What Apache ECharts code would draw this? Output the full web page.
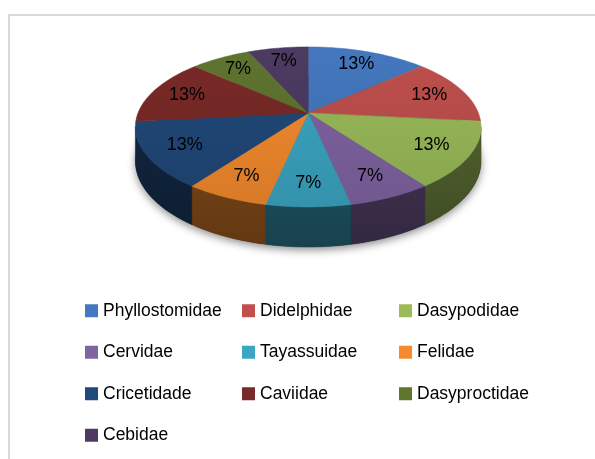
<!DOCTYPE html>
<html>
<head>
<meta charset="utf-8">
<script src="https://cdn.jsdelivr.net/npm/echarts@6/dist/echarts.min.js"></script>
<style>
  html, body { margin: 0; padding: 0; background: #fff; }
  #chart { width: 595px; height: 459px; }
</style>
</head>
<body>
<div id="chart"></div>
<script>
// families, clockwise from 12 o'clock
var families = ['Phyllostomidae', 'Didelphidae', 'Dasypodidae', 'Cervidae', 'Tayassuidae',
    'Felidae', 'Cricetidade', 'Caviidae', 'Dasyproctidae', 'Cebidae'];
var counts = [2, 2, 2, 1, 1, 1, 2, 2, 1, 1];

var palette = ['#4478c0', '#c0504d', '#9bbb59', '#8064a2', '#3ba6c2',
    '#f58b2e', '#21497a', '#7a2a28', '#5f7530', '#4d3b62'];

var chart = echarts.init(document.getElementById('chart'));

var total = counts.reduce(function (a, b) { return a + b; }, 0);

// pseudo 3d pie geometry (fractions of the canvas)
var geo = {cx: 0.518, cy: 0.246, rx: 0.286, ry: 0.169, persp: 0.175, depth: 0.072};

function shade(hex, f) {
    var n = parseInt(hex.slice(1), 16);
    var r = Math.min(255, Math.round(((n >> 16) & 255) * f));
    var g = Math.min(255, Math.round(((n >> 8) & 255) * f));
    var b = Math.min(255, Math.round((n & 255) * f));
    return 'rgb(' + r + ',' + g + ',' + b + ')';
}

function projector(api) {
    var W = api.getWidth(), H = api.getHeight();
    var cx = geo.cx * W, cy = geo.cy * H, A = geo.rx * W, B = geo.ry * H, D = geo.depth * H;
    return function (theta, r, h) {
        var u = r * Math.sin(theta), v = -r * Math.cos(theta);
        var w = 1 - geo.persp * v;
        return [cx + A * u / w, cy + (B * v + h * D) / w];
    };
}

function arcPoints(p, a, b, r, h) {
    var pts = [];
    var n = Math.max(2, Math.ceil((b - a) / (Math.PI / 90)));
    for (var k = 0; k <= n; k++) {
        pts.push(p(a + (b - a) * k / n, r, h));
    }
    return pts;
}

function makeRender(i) {
    return function (params, api) {
        var p = projector(api);
        var H = api.getHeight();
        var before = 0;
        for (var j = 0; j < i; j++) before += counts[j];
        var a = before / total * Math.PI * 2;
        var b = a + api.value(0) / total * Math.PI * 2;
        var color = palette[i];
        var children = [];

        if (i === 0) {
            // base of the pie, carries the soft shadow
            children.push({
                type: 'polygon',
                z2: 1,
                shape: {points: arcPoints(p, 0, Math.PI * 2, 1, 1)},
                style: {fill: '#333', shadowBlur: 8, shadowColor: 'rgba(0,0,0,0.45)', shadowOffsetY: 3}
            });
        }

        // visible outer wall
        var vis0 = Math.acos(-geo.persp), vis1 = Math.PI * 2 - vis0;
        var wa = Math.max(a, vis0), wb = Math.min(b, vis1);
        if (wa < wb) {
            var top = arcPoints(p, wa, wb, 1, 0);
            var bot = arcPoints(p, wa, wb, 1, 1).reverse();
            var y0 = geo.cy * H, y1 = y0 + (geo.ry + geo.depth) * H * 1.2;
            children.push({
                type: 'polygon',
                z2: 5,
                shape: {points: top.concat(bot)},
                style: {
                    fill: new echarts.graphic.LinearGradient(0, y0, 0, y1, [
                        {offset: 0, color: shade(color, 0.52)},
                        {offset: 1, color: shade(color, 0.4)}
                    ], true),
                    stroke: shade(color, 0.42),
                    lineWidth: 0.5
                }
            });
        }

        // top face
        var topY = (geo.cy - geo.ry) * H, botY = (geo.cy + geo.ry * 1.25) * H;
        children.push({
            type: 'polygon',
            z2: 10,
            shape: {points: [p(0, 0, 0)].concat(arcPoints(p, a, b, 1, 0))},
            style: {
                fill: new echarts.graphic.LinearGradient(0, topY, 0, botY, [
                    {offset: 0, color: shade(color, 1.0)},
                    {offset: 1, color: shade(color, 0.88)}
                ], true),
                stroke: shade(color, 0.95),
                lineWidth: 0.5
            }
        });

        // percentage label
        var mid = (a + b) / 2;
        var lp = p(mid, 0.78, 0);
        children.push({
            type: 'text',
            z2: 20,
            x: lp[0],
            y: lp[1],
            style: {
                text: Math.round(api.value(0) / total * 100) + '%',
                fill: '#000',
                font: '18px "Liberation Sans", Arial, sans-serif',
                align: 'center',
                verticalAlign: 'middle'
            }
        });

        return {type: 'group', children: children};
    };
}

var series = families.map(function (name, i) {
    return {
        name: name,
        type: 'custom',
        coordinateSystem: 'none',
        itemStyle: {color: palette[i]},
        renderItem: makeRender(i),
        data: [counts[i]]
    };
});

chart.setOption({
    animation: false,
    backgroundColor: '#fff',
    graphic: [{
        type: 'rect',
        shape: {x: 9, y: 15, width: 700, height: 600},
        style: {fill: 'none', stroke: '#d9d9d9', lineWidth: 2},
        silent: true
    }],
    legend: {
        data: families,
        left: 80,
        top: 285,
        width: 480,
        itemGap: 0,
        itemWidth: 13,
        itemHeight: 13,
        icon: 'rect',
        selectedMode: false,
        formatter: '{n|{name}}',
        textStyle: {
            lineHeight: 41.5,
            rich: {
                n: {
                    width: 139,
                    height: 41.5,
                    lineHeight: 41.5,
                    fontSize: 17.5,
                    fontFamily: '"Liberation Sans", Arial, sans-serif',
                    color: '#000'
                }
            }
        }
    },
    series: series
});
</script>
</body>
</html>
